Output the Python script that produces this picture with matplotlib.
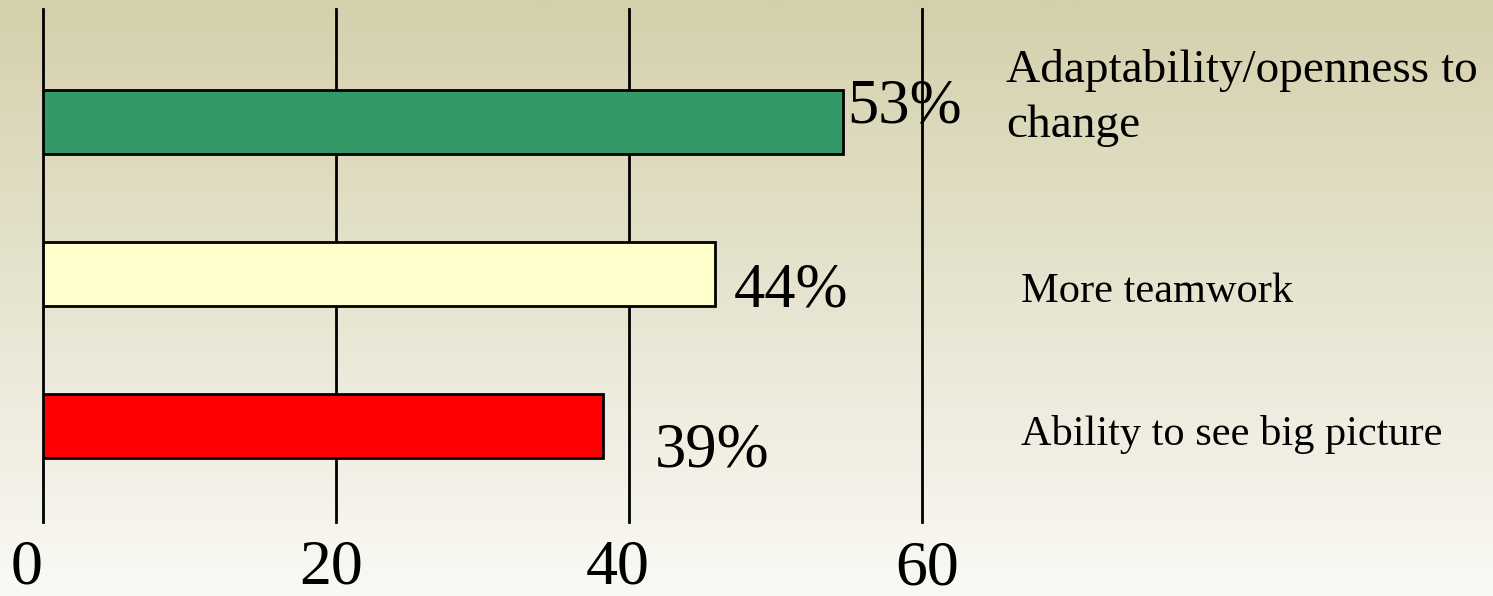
import numpy as np
import matplotlib
matplotlib.use("Agg")
import matplotlib.pyplot as plt
import matplotlib.transforms as mtransforms

plt.rcParams['font.family'] = ['Liberation Serif', 'DejaVu Serif']

# data, bottom to top
categories = ["Ability to see big picture", "More teamwork", "Adaptability/openness to\nchange"]
bar_values = [38.2, 45.9, 54.6]
pct_labels = ["39%", "44%", "53%"]
x_ticks = [0, 20, 40, 60]
x_tick_labels = ["0", "20", "40", "60"]

bar_colors = ["#ff0000", "#ffffcc", "#339966"]

W, H, DPI = 1493, 596, 100
fig = plt.figure(figsize=(W / DPI, H / DPI), dpi=DPI)

# gradient background
bg = fig.add_axes([0, 0, 1, 1], zorder=-10)
top = np.array([212, 208, 172]) / 255
bottom = np.array([250, 249, 245]) / 255
t = np.linspace(0, 1, 256)[:, None]
grad = top[None, :] * (1 - t) + bottom[None, :] * t
bg.imshow(grad[:, None, :], aspect='auto', extent=[0, 1, 0, 1])
bg.axis('off')

ax = fig.add_axes([43 / W, (H - 522) / H, 879 / W, 513 / H])
ax.set_facecolor('none')
ypos = np.arange(len(categories))
ax.barh(ypos, bar_values, height=0.42, color=bar_colors,
        edgecolor='black', linewidth=2, zorder=3)

ax.set_xlim(0, 60)
ax.set_ylim(-0.632, 2.743)
for x in x_ticks:
    ax.axvline(x, color='black', linewidth=2, zorder=1, clip_on=False)

for s in ax.spines.values():
    s.set_visible(False)
ax.set_yticks([])
ax.set_xticks(x_ticks)
ax.set_xticklabels(x_tick_labels, fontsize=46)
ax.tick_params(axis='x', length=0, pad=12.5)

tick_shift = [(-16, 0), (-5, 0), (-11, 0), (5, -1)]
for lab, (dx, dy) in zip(ax.get_xticklabels(), tick_shift):
    lab.set_transform(lab.get_transform() +
                      mtransforms.ScaledTranslation(dx / DPI, dy / DPI, fig.dpi_scale_trans))

# percent labels
pct_offsets = [(52, -41), (18, -33), (4, -1)]
for y, v, lab, (dx, dy) in zip(ypos, bar_values, pct_labels, pct_offsets):
    ax.annotate(lab, xy=(v, y), xytext=(dx, dy), textcoords='offset pixels',
                fontsize=45, va='baseline', ha='left', annotation_clip=False)

# category labels on the right
cat_sizes = [30.5, 30.5, 34]
cat_offsets = [(99, -19), (99, -28), (84, -15)]
for y, lab, fs, (dx, dy) in zip(ypos, categories, cat_sizes, cat_offsets):
    ax.annotate(lab, xy=(60, y), xytext=(dx, dy), textcoords='offset pixels',
                fontsize=fs, va='baseline', ha='left', linespacing=1.38,
                annotation_clip=False)

fig.savefig("out.png", dpi=DPI)
